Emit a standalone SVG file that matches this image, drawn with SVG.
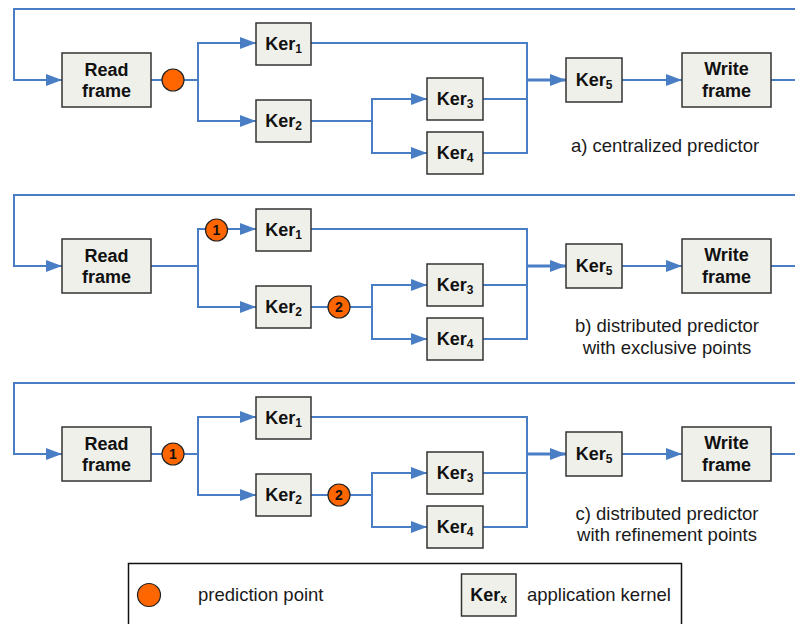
<svg xmlns="http://www.w3.org/2000/svg" width="795" height="624" viewBox="0 0 795 624">
<style>
.ln{fill:none;stroke:#4A7EC4;stroke-width:2}
.thk{stroke-width:3}
.box{fill:#F0F0EA;stroke:#333;stroke-width:1.5}
.pp{fill:#FF6600;stroke:#222;stroke-width:1.2}
.bt{font-family:"Liberation Sans",Arial,sans-serif;font-weight:bold;font-size:18px;fill:#111;text-anchor:middle}
.sub{font-size:12px}
.num{font-family:"Liberation Sans",Arial,sans-serif;font-weight:bold;font-size:14px;fill:#111;text-anchor:middle}
.lab{font-family:"Liberation Sans",Arial,sans-serif;font-size:18.5px;fill:#1a1a1a;text-anchor:middle}
.leg{font-family:"Liberation Sans",Arial,sans-serif;font-size:18.5px;fill:#1a1a1a}
</style>
<defs>
<marker id="ah" markerWidth="16" markerHeight="12" refX="16" refY="6" orient="auto" markerUnits="userSpaceOnUse"><path d="M0,0 L16,6 L0,12 z" fill="#4A7EC4"/></marker>
</defs>
<rect width="795" height="624" fill="#fff"/>

<!-- Panel a -->
<g id="panel-a">
<g id="connectors-a">
<path class="ln" d="M795,9 H14 V80 H62" marker-end="url(#ah)"/>
<path class="ln" d="M151,80 H198"/>
<path class="ln" d="M198,80 V43 H256" marker-end="url(#ah)"/>
<path class="ln" d="M198,80 V121 H256" marker-end="url(#ah)"/>
<path class="ln" d="M311,121 H372"/>
<path class="ln" d="M372,121 V99 H427" marker-end="url(#ah)"/>
<path class="ln" d="M372,121 V153 H427" marker-end="url(#ah)"/>
<path class="ln" d="M311,43 H527 V153 H483"/>
<path class="ln" d="M483,99 H527"/>
<path class="ln thk" d="M527,80 H566" marker-end="url(#ah)"/>
<path class="ln" d="M622,80 H682" marker-end="url(#ah)"/>
<path class="ln" d="M771,80 H795"/>
</g>
<g id="a-read"><rect class="box" x="62" y="53" width="89" height="54"/><text class="bt" x="106.5" y="76">Read</text><text class="bt" x="106.5" y="97">frame</text></g>
<g id="a-pp"><circle class="pp" cx="173" cy="80" r="11"/></g>
<g id="a-ker1"><rect class="box" x="256" y="23" width="55" height="42"/><text class="bt" x="283.5" y="50">Ker<tspan class="sub" dy="2.5">1</tspan></text></g>
<g id="a-ker2"><rect class="box" x="256" y="100" width="55" height="42"/><text class="bt" x="283.5" y="127">Ker<tspan class="sub" dy="2.5">2</tspan></text></g>
<g id="a-ker3"><rect class="box" x="427" y="78" width="56" height="42"/><text class="bt" x="455" y="105">Ker<tspan class="sub" dy="2.5">3</tspan></text></g>
<g id="a-ker4"><rect class="box" x="427" y="132" width="56" height="42"/><text class="bt" x="455" y="159">Ker<tspan class="sub" dy="2.5">4</tspan></text></g>
<g id="a-ker5"><rect class="box" x="566" y="58" width="56" height="44"/><text class="bt" x="594" y="86">Ker<tspan class="sub" dy="2.5">5</tspan></text></g>
<g id="a-write"><rect class="box" x="682" y="53" width="89" height="54"/><text class="bt" x="726.5" y="75">Write</text><text class="bt" x="726.5" y="97">frame</text></g>
<text class="lab" x="665" y="152">a) centralized predictor</text>
</g>

<!-- Panel b -->
<g id="panel-b" transform="translate(0,186)">
<g id="connectors-b">
<path class="ln" d="M795,9 H14 V80 H62" marker-end="url(#ah)"/>
<path class="ln" d="M151,80 H198"/>
<path class="ln" d="M198,80 V43 H256" marker-end="url(#ah)"/>
<path class="ln" d="M198,80 V121 H256" marker-end="url(#ah)"/>
<path class="ln" d="M311,121 H372"/>
<path class="ln" d="M372,121 V99 H427" marker-end="url(#ah)"/>
<path class="ln" d="M372,121 V153 H427" marker-end="url(#ah)"/>
<path class="ln" d="M311,43 H527 V153 H483"/>
<path class="ln" d="M483,99 H527"/>
<path class="ln thk" d="M527,80 H566" marker-end="url(#ah)"/>
<path class="ln" d="M622,80 H682" marker-end="url(#ah)"/>
<path class="ln" d="M771,80 H795"/>
</g>
<g id="b-read"><rect class="box" x="62" y="53" width="89" height="54"/><text class="bt" x="106.5" y="76">Read</text><text class="bt" x="106.5" y="97">frame</text></g>
<g id="b-pp1"><circle class="pp" cx="216.5" cy="44" r="11"/><text class="num" x="216.5" y="49">1</text></g>
<g id="b-pp2"><circle class="pp" cx="339" cy="121" r="11"/><text class="num" x="339" y="126">2</text></g>
<g id="b-ker1"><rect class="box" x="256" y="23" width="55" height="42"/><text class="bt" x="283.5" y="50">Ker<tspan class="sub" dy="2.5">1</tspan></text></g>
<g id="b-ker2"><rect class="box" x="256" y="100" width="55" height="42"/><text class="bt" x="283.5" y="127">Ker<tspan class="sub" dy="2.5">2</tspan></text></g>
<g id="b-ker3"><rect class="box" x="427" y="78" width="56" height="42"/><text class="bt" x="455" y="105">Ker<tspan class="sub" dy="2.5">3</tspan></text></g>
<g id="b-ker4"><rect class="box" x="427" y="132" width="56" height="42"/><text class="bt" x="455" y="159">Ker<tspan class="sub" dy="2.5">4</tspan></text></g>
<g id="b-ker5"><rect class="box" x="566" y="58" width="56" height="44"/><text class="bt" x="594" y="86">Ker<tspan class="sub" dy="2.5">5</tspan></text></g>
<g id="b-write"><rect class="box" x="682" y="53" width="89" height="54"/><text class="bt" x="726.5" y="75">Write</text><text class="bt" x="726.5" y="97">frame</text></g>
<text class="lab" x="667" y="146">b) distributed predictor</text>
<text class="lab" x="667" y="168">with exclusive points</text>
</g>

<!-- Panel c -->
<g id="panel-c" transform="translate(0,374)">
<g id="connectors-c">
<path class="ln" d="M795,9 H14 V80 H62" marker-end="url(#ah)"/>
<path class="ln" d="M151,80 H198"/>
<path class="ln" d="M198,80 V43 H256" marker-end="url(#ah)"/>
<path class="ln" d="M198,80 V121 H256" marker-end="url(#ah)"/>
<path class="ln" d="M311,121 H372"/>
<path class="ln" d="M372,121 V99 H427" marker-end="url(#ah)"/>
<path class="ln" d="M372,121 V153 H427" marker-end="url(#ah)"/>
<path class="ln" d="M311,43 H527 V153 H483"/>
<path class="ln" d="M483,99 H527"/>
<path class="ln thk" d="M527,80 H566" marker-end="url(#ah)"/>
<path class="ln" d="M622,80 H682" marker-end="url(#ah)"/>
<path class="ln" d="M771,80 H795"/>
</g>
<g id="c-read"><rect class="box" x="62" y="53" width="89" height="54"/><text class="bt" x="106.5" y="76">Read</text><text class="bt" x="106.5" y="97">frame</text></g>
<g id="c-pp1"><circle class="pp" cx="173" cy="80" r="11"/><text class="num" x="173" y="85">1</text></g>
<g id="c-pp2"><circle class="pp" cx="339" cy="121" r="11"/><text class="num" x="339" y="126">2</text></g>
<g id="c-ker1"><rect class="box" x="256" y="23" width="55" height="42"/><text class="bt" x="283.5" y="50">Ker<tspan class="sub" dy="2.5">1</tspan></text></g>
<g id="c-ker2"><rect class="box" x="256" y="100" width="55" height="42"/><text class="bt" x="283.5" y="127">Ker<tspan class="sub" dy="2.5">2</tspan></text></g>
<g id="c-ker3"><rect class="box" x="427" y="78" width="56" height="42"/><text class="bt" x="455" y="105">Ker<tspan class="sub" dy="2.5">3</tspan></text></g>
<g id="c-ker4"><rect class="box" x="427" y="132" width="56" height="42"/><text class="bt" x="455" y="159">Ker<tspan class="sub" dy="2.5">4</tspan></text></g>
<g id="c-ker5"><rect class="box" x="566" y="58" width="56" height="44"/><text class="bt" x="594" y="86">Ker<tspan class="sub" dy="2.5">5</tspan></text></g>
<g id="c-write"><rect class="box" x="682" y="53" width="89" height="54"/><text class="bt" x="726.5" y="75">Write</text><text class="bt" x="726.5" y="97">frame</text></g>
<text class="lab" x="667" y="146">c) distributed predictor</text>
<text class="lab" x="667" y="167">with refinement points</text>
</g>

<!-- Legend -->
<g id="legend">
<rect x="128.5" y="563.5" width="553" height="70" fill="#fff" stroke="#111" stroke-width="1.5"/>
<g id="legend-pp"><circle class="pp" cx="149" cy="595" r="11.5"/><text class="leg" x="198" y="601">prediction point</text></g>
<g id="legend-ker"><rect class="box" x="461.5" y="574" width="54.5" height="42"/><text class="bt" x="488.5" y="601">Ker<tspan style="font-size:12px" dy="2">x</tspan></text><text class="leg" x="527" y="601">application kernel</text></g>
</g>
</svg>
